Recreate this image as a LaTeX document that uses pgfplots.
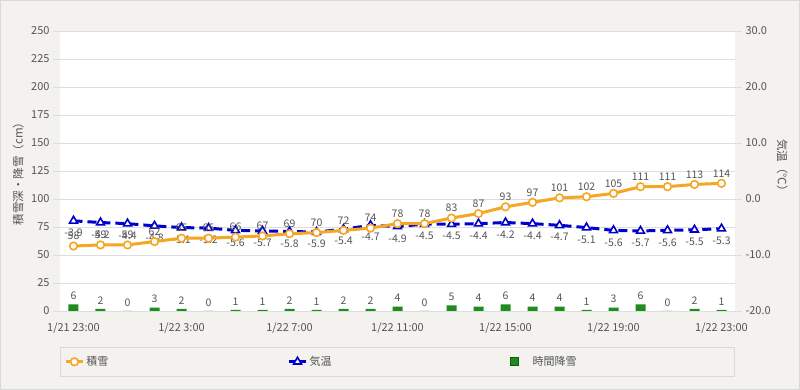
\documentclass[border=0pt]{standalone}
\usepackage{pgfplots}
\pgfplotsset{compat=1.18}
\usepackage{fontspec}
\setmainfont{Noto Sans CJK JP}
\definecolor{bg}{HTML}{F3F2EE}
\definecolor{frame}{HTML}{D9D9D9}
\definecolor{txt}{HTML}{555555}
\definecolor{snowc}{HTML}{F5A623}
\definecolor{tempc}{HTML}{0000CC}
\definecolor{barc}{HTML}{1E8C1E}
\definecolor{bard}{HTML}{0D5E0D}
\definecolor{gridc}{HTML}{DDDDDD}
\pgfplotsset{
  base/.style={
    scale only axis, width=675pt, height=280pt,
    at={(0,0)}, anchor=south west,
    xmin=-0.5, xmax=24.5,
    /pgf/number format/assume math mode=true,
    tick label style={font=\fontsize{11}{13}\selectfont, color=txt},
    label style={font=\fontsize{11.5}{13}\selectfont, color=txt},
    axis line style={draw=none},
    tick align=outside, major tick length=7pt,
    every tick/.style={gridc, line width=0.6pt},
  }
}
\begin{document}
\begin{tikzpicture}[x=1pt,y=1pt]
\fill[bg] (-60,-79) rectangle (740,311);
\draw[frame, line width=0.8pt] (-59.6,-78.6) rectangle (739.6,310.6);
\useasboundingbox (-60,-79) rectangle (740,311);
% left axis: background, grid, bars, legend
\begin{axis}[base,
  axis background/.style={fill=white},
  ymin=0, ymax=250, ytick={0,25,...,250}, ytick pos=left,
  ymajorgrids, grid style={gridc, line width=0.6pt},
  xtick={0,4,...,24},
  xticklabels={1/21 23:00,1/22 3:00,1/22 7:00,1/22 11:00,1/22 15:00,1/22 19:00,1/22 23:00},
  x tick style={draw=none}, xtick pos=bottom,
  xticklabel style={yshift=-1pt},
  ylabel={積雪深・降雪（cm）},
  ylabel style={at={(axis description cs:-0.062,0.5)}, anchor=center},
  legend columns=3, legend cell align=left,
  legend style={at={(axis description cs:0,-0.1286)}, anchor=north west,
    fill=bg, draw=frame, line width=0.8pt, inner xsep=4pt, inner ysep=7pt,
    font=\fontsize{11}{13}\selectfont, text=txt,
    /tikz/every even column/.append style={column sep=14pt}},
]
\addlegendimage{snowc, line width=3pt, mark=*, mark size=3.8pt, mark options={fill=white, draw=snowc, line width=1.6pt}}
\addlegendentry{\makebox[185pt][l]{積雪}}
\addlegendimage{tempc, line width=3pt, mark=triangle*, mark size=4.5pt, mark options={fill=white, draw=tempc, line width=1.6pt}}
\addlegendentry{\makebox[185pt][l]{気温}}
\addlegendimage{only marks, mark=square*, mark size=4pt, mark options={fill=barc, draw=bard, line width=0.6pt}}
\addlegendentry{\makebox[208pt][l]{\hspace{12pt}時間降雪}}
\addplot[ybar, bar width=10pt, fill=barc, draw=none, forget plot,
  nodes near coords, every node near coord/.style={font=\fontsize{10.5}{12}\selectfont, color=txt, anchor=south, yshift=1pt}]
  coordinates {(0,6)(1,2)(2,0)(3,3)(4,2)(5,0)(6,1)(7,1)(8,2)(9,1)(10,2)(11,2)(12,4)(13,0)(14,5)(15,4)(16,6)(17,4)(18,4)(19,1)(20,3)(21,6)(22,0)(23,2)(24,1)};
\end{axis}
% right axis: temperature
\begin{axis}[base,
  ymin=-20, ymax=30, ytick={-20,-10,...,30}, ytick pos=right,
  yticklabel style={/pgf/number format/.cd, fixed, fixed zerofill, precision=1},
  xtick=\empty,
  ylabel={気温（℃）},
  ylabel style={at={(axis description cs:1.07,0.51)}, anchor=center, rotate=180},
]
\addplot[tempc, line width=3pt, dash pattern=on 9pt off 5pt,
  mark=triangle*, mark size=4.5pt, mark options={solid, fill=white, draw=tempc, line width=1.6pt},
  nodes near coords={\pgfmathprintnumber[fixed,fixed zerofill,precision=1]{\pgfplotspointmeta}},
  every node near coord/.style={font=\fontsize{10.5}{12}\selectfont, color=txt, anchor=north, yshift=-4pt}]
  coordinates {(0,-3.9)(1,-4.2)(2,-4.4)(3,-4.8)(4,-5.1)(5,-5.2)(6,-5.6)(7,-5.7)(8,-5.8)(9,-5.9)(10,-5.4)(11,-4.7)(12,-4.9)(13,-4.5)(14,-4.5)(15,-4.4)(16,-4.2)(17,-4.4)(18,-4.7)(19,-5.1)(20,-5.6)(21,-5.7)(22,-5.6)(23,-5.5)(24,-5.3)};
\end{axis}
% left axis again: snow depth on top
\begin{axis}[base,
  ymin=0, ymax=250, ytick=\empty, xtick=\empty,
]
\addplot[snowc, line width=3pt, mark=*, mark size=3.8pt, mark options={fill=white, draw=snowc, line width=1.6pt},
  nodes near coords, every node near coord/.style={font=\fontsize{10.5}{12}\selectfont, color=txt, anchor=south, yshift=2pt}]
  coordinates {(0,58)(1,59)(2,59)(3,62)(4,65)(5,65)(6,66)(7,67)(8,69)(9,70)(10,72)(11,74)(12,78)(13,78)(14,83)(15,87)(16,93)(17,97)(18,101)(19,102)(20,105)(21,111)(22,111)(23,113)(24,114)};
\end{axis}
\end{tikzpicture}
\end{document}
